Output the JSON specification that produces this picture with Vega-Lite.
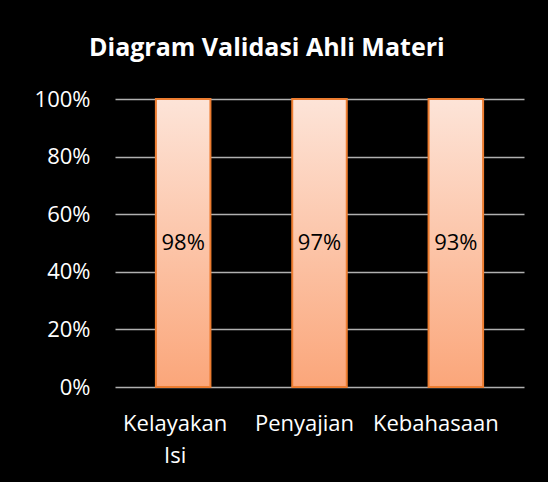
{
  "$schema": "https://vega.github.io/schema/vega-lite/v6.json",
  "width": 409,
  "height": 288,
  "autosize": {"type": "none"},
  "padding": {"left": 115, "top": 99, "right": 24, "bottom": 95},
  "background": "black",
  "config": {"view": {"stroke": null}},
  "title": {
    "text": "Diagram Validasi Ahli Materi",
    "font": "Open Sans",
    "fontSize": 25,
    "fontWeight": "bold",
    "color": "white",
    "anchor": "start",
    "frame": "group",
    "dx": -26,
    "offset": 27
  },
  "data": {
    "values": [
      {"aspek": "Kelayakan Isi", "nilai": 98, "label": "98%"},
      {"aspek": "Penyajian", "nilai": 97, "label": "97%"},
      {"aspek": "Kebahasaan", "nilai": 93, "label": "93%"}
    ]
  },
  "encoding": {
    "x": {
      "field": "aspek",
      "type": "nominal",
      "sort": null,
      "scale": {"paddingInner": 0.6, "paddingOuter": 0.3},
      "axis": {
        "title": null,
        "domain": false,
        "ticks": false,
        "grid": false,
        "labelAngle": 0,
        "labelFont": "Open Sans",
        "labelFontSize": 22,
        "labelColor": "white",
        "labelPadding": 26,
        "labelLineHeight": 32,
        "labelExpr": "split(datum.label, ' ')",
        "labelOffset": {
          "condition": [
            {"test": "datum.value == 'Kelayakan Isi'", "value": -8},
            {"test": "datum.value == 'Penyajian'", "value": -15}
          ],
          "value": -20
        }
      }
    }
  },
  "layer": [
    {
      "mark": {
        "type": "bar",
        "stroke": "#ed7d31",
        "strokeWidth": 2,
        "color": {
          "gradient": "linear",
          "x1": 0, "y1": 0, "x2": 0, "y2": 1,
          "stops": [
            {"offset": 0, "color": "#fde4d8"},
            {"offset": 1, "color": "#fba67a"}
          ]
        }
      },
      "encoding": {
        "y": {
          "field": "nilai",
          "type": "quantitative",
          "scale": {"domain": [0, 1], "clamp": true, "nice": false},
          "axis": {
            "title": null,
            "domain": false,
            "ticks": false,
            "values": [0, 0.2, 0.4, 0.6, 0.8, 1],
            "format": ".0%",
            "grid": true,
            "gridColor": "#b0b0b0",
            "gridWidth": 1.5,
            "labelFont": "Open Sans",
            "labelFontSize": 22,
            "labelColor": "white",
            "labelPadding": 25
          }
        }
      }
    },
    {
      "mark": {
        "type": "text",
        "font": "Open Sans",
        "fontSize": 22,
        "color": "black",
        "baseline": "middle"
      },
      "encoding": {
        "y": {"datum": 0.5, "type": "quantitative"},
        "text": {"field": "label"}
      }
    }
  ]
}
